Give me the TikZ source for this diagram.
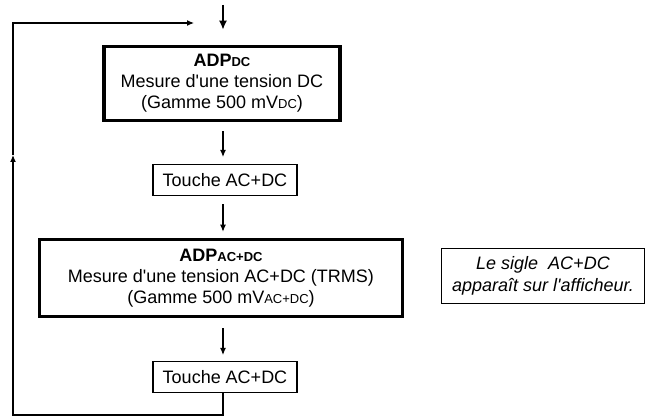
\documentclass[tikz,border=0pt]{standalone}
\usepackage{fontspec}
\setmainfont{Liberation Sans}
\usepackage{tikz}
\usetikzlibrary{arrows.meta}

\newcommand{\petit}[1]{{\fontsize{13}{13}\selectfont #1}}
\newcommand{\apos}{\textquotesingle}

\tikzset{
 etat/.style={draw, line width=3.5pt, align=center, inner sep=0pt},
 touche/.style={draw, line width=1.1pt, minimum width=144, minimum height=31, inner sep=0pt},
 note/.style={draw, line width=0.9pt, align=center, inner sep=0pt, font=\fontsize{18}{22}\selectfont\itshape},
 fl/.style={line width=1.1pt, -{Latex[length=7pt,width=6pt]}}
}

\begin{document}
\begin{tikzpicture}[x=1pt, y=-1pt, font=\fontsize{18}{21}\selectfont]
%\draw[help lines] (0,0) grid[step=20pt] (646,417);
\useasboundingbox (0,0) rectangle (646,417);

 \node[etat, minimum width=236, minimum height=74] (adpdc) at (222,83.5)
  {\textbf{ADP\petit{DC}}\\Mesure d\apos une tension DC\\(Gamme 500 mV\petit{DC})};

 \node[touche] (touche1) at (225,180) {Touche AC+DC};

 \node[etat, minimum width=363, minimum height=77] (adpacdc) at (221,278)
  {\textbf{ADP\petit{AC+DC}}\\Mesure d\apos une tension AC+DC (TRMS)\\(Gamme 500 mV\petit{AC+DC})};

 \node[note, minimum width=203, minimum height=55] (sigle) at (543,275.5)
  {Le sigle~ AC+DC\\apparaît sur l\apos afficheur.};

 \node[touche] (touche2) at (225,377) {Touche AC+DC};

 \coordinate (entree) at (223,5);
 \coordinate (bas) at (13,415);
 \coordinate (milieu) at (13,155);
 \coordinate (haut) at (13,23);
 \coordinate (retour) at (194,23);

 % entree
 \draw[line width=2.5pt, -{Latex[length=9pt,width=8pt]}, shorten >=15pt] (entree) -- (entree |- adpdc.north);

 \draw[fl, shorten <=9pt, shorten >=7pt] (adpdc.south -| entree) -- (touche1.north -| entree);
 \draw[fl, shorten <=8pt, shorten >=6pt] (touche1.south -| entree) -- (adpacdc.north -| entree);
 \draw[fl, shorten <=10pt, shorten >=6pt] (adpacdc.south -| entree) -- (touche2.north -| entree);

 % boucle
 \draw[fl] (touche2.south -| entree) |- (bas) -- (milieu);
 \draw[fl] (milieu) -- (haut) -- (retour);

\end{tikzpicture}
\end{document}
